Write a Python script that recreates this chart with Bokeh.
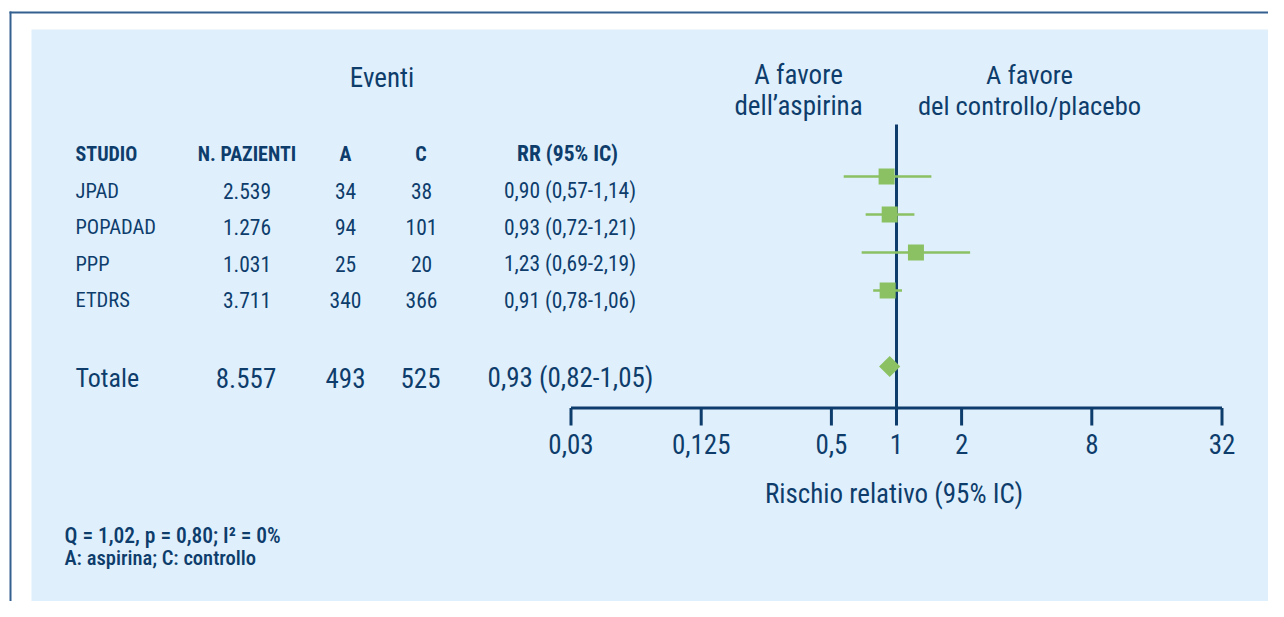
import math
from bokeh.plotting import figure
from bokeh.models import Range1d, LinearScale
from bokeh.core.properties import value
from bokeh.embed import file_html
from bokeh.resources import INLINE

# ---------------- data ----------------
studies = ["JPAD", "POPADAD", "PPP", "ETDRS"]
patients = ["2.539", "1.276", "1.031", "3.711"]
events_a = ["34", "94", "25", "340"]
events_c = ["38", "101", "20", "366"]
rr_text = ["0,90 (0,57-1,14)", "0,93 (0,72-1,21)", "1,23 (0,69-2,19)", "0,91 (0,78-1,06)"]
rr = [0.90, 0.93, 1.23, 0.91]
ci_lo = [0.57, 0.72, 0.69, 0.78]
ci_hi = [1.45, 1.21, 2.19, 1.06]   # upper whisker as drawn
rows = [0, 1, 2, 3]

total_label = "Totale"
total_patients = "8.557"
total_a = "493"
total_c = "525"
total_rr_text = "0,93 (0,82-1,05)"
total_rr = [0.93]
total_row = [5]

headers = ["STUDIO", "N. PAZIENTI", "A", "C", "RR (95% IC)"]
tick_values = [1 / 32, 1 / 8, 0.5, 1, 2, 8, 32]
tick_labels = ["0,03", "0,125", "0,5", "1", "2", "8", "32"]
axis_title = "Rischio relativo (95% IC)"
favour_left = ["A favore", "dell\u2019aspirina"]
favour_right = ["A favore", "del controllo/placebo"]
events_title = "Eventi"
footnotes = ["Q = 1,02, p = 0,80; I\u00b2 = 0%", "A: aspirina; C: controllo"]

# ---------------- style ----------------
W, H = 1268, 601
NAVY = "#0E3D6C"
GREEN = "#8BC163"
PANEL = "#DFF0FC"
FRAME = "#33608F"
FONT = value("Roboto Condensed")
FONT_MED = value("Roboto Condensed Medium")

# log scale: 1 at px 896, 65.1 px per doubling
PX_ONE, PX_DBL = 896.0, 65.1
x_lo = 2 ** ((0 - PX_ONE) / PX_DBL)
x_hi = 2 ** ((W - PX_ONE) / PX_DBL)

# forest rows: row r centred at px 176 + 38 r
ROW0, ROW_H = 176.0, 38.0
r_top = (0 - ROW0) / ROW_H
r_bot = (H - ROW0) / ROW_H

p = figure(width=W, height=H, output_backend="svg", toolbar_location=None,
           x_axis_type="log", x_range=Range1d(x_lo, x_hi),
           y_range=Range1d(H, 0), min_border=0)
p.extra_x_ranges = {"px": Range1d(0, W)}
p.extra_x_scales = {"px": LinearScale()}
p.extra_y_ranges = {"rows": Range1d(r_bot, r_top)}
p.axis.visible = False
p.grid.visible = False
p.outline_line_color = None
p.background_fill_color = "white"
p.border_fill_color = "white"

# outer frame and panel
p.quad(left=[31], right=[1273], top=[29], bottom=[609], x_range_name="px",
       fill_color=PANEL, line_color=None)
p.quad(left=[9], right=[1284], top=[11], bottom=[13], x_range_name="px",
       fill_color=FRAME, line_color=None)
p.quad(left=[9], right=[11], top=[11], bottom=[617], x_range_name="px",
       fill_color=FRAME, line_color=None)


def txt(x, y, s, size, align="left", bold=False, font=FONT):
    p.text(x=x, y=y, text=s, x_range_name="px", text_font=font,
           text_font_size=size, text_align=align, text_baseline="middle",
           text_color=NAVY, text_font_style="bold" if bold else "normal")


BIG = "27px"
NAMEF = "20.5px"
NUMF = "21.5px"

# titles
txt([381.5], [77], [events_title], BIG, "center")
txt([798, 798], [74, 105], favour_left, BIG, "center")
txt([1029, 1029], [74, 105], favour_right, "26.5px", "center")

# column headers
hx = [75, 246.5, 345, 420.5, 567]
ha = ["left", "center", "center", "center", "center"]
hs = ["20px", "20px", "20px", "20px", "21.5px"]
for x, a, h, s in zip(hx, ha, headers, hs):
    txt([x], [153], [h], s, a, bold=True)

# table rows
ry = [190 + 36.5 * i for i in range(len(studies))]
txt([75] * 4, ry, studies, NAMEF, "left")
txt([246.5] * 4, ry, patients, NUMF, "center")
txt([345] * 4, ry, events_a, NUMF, "center")
txt([421] * 4, ry, events_c, NUMF, "center")
txt([569.5] * 4, ry, rr_text, NUMF, "center")

# total row
ty = 377
txt([75], [ty], [total_label], "26px", "left")
txt([245.5], [ty], [total_patients], BIG, "center")
txt([345], [ty], [total_a], BIG, "center")
txt([420], [ty], [total_c], BIG, "center")
txt([570], [ty], [total_rr_text], BIG, "center")

# axis (drawn on the log scale)
AXY, TICK_END = 407.5, 425
p.segment(x0=[tick_values[0]], x1=[tick_values[-1]], y0=[AXY], y1=[AXY],
          line_color=NAVY, line_width=3)
p.segment(x0=tick_values, x1=tick_values, y0=[AXY] * len(tick_values),
          y1=[TICK_END] * len(tick_values), line_color=NAVY, line_width=3)
p.text(x=tick_values, y=[443] * len(tick_values), text=tick_labels,
       text_font=FONT, text_font_size=BIG, text_align="center",
       text_baseline="middle", text_color=NAVY)
txt([893.5], [493], [axis_title], BIG, "center")

# line of no effect
p.segment(x0=[1], x1=[1], y0=[124], y1=[AXY], line_color=NAVY, line_width=3)

# confidence intervals and point estimates
p.segment(x0=ci_lo, x1=ci_hi, y0=rows, y1=rows, y_range_name="rows",
          line_color=GREEN, line_width=2.5)
p.scatter(x=rr, y=rows, y_range_name="rows", marker="square", size=16,
          fill_color=GREEN, line_color=None)
p.scatter(x=total_rr, y=total_row, y_range_name="rows", marker="square",
          size=15, angle=math.pi / 4, fill_color=GREEN, line_color=None)

# footnotes
txt([64], [535], [footnotes[0]], "21.5px", "left", font=FONT_MED)
txt([64], [557], [footnotes[1]], "20.5px", "left", font=FONT_MED)

open("out.html", "w").write(file_html(p, INLINE))
